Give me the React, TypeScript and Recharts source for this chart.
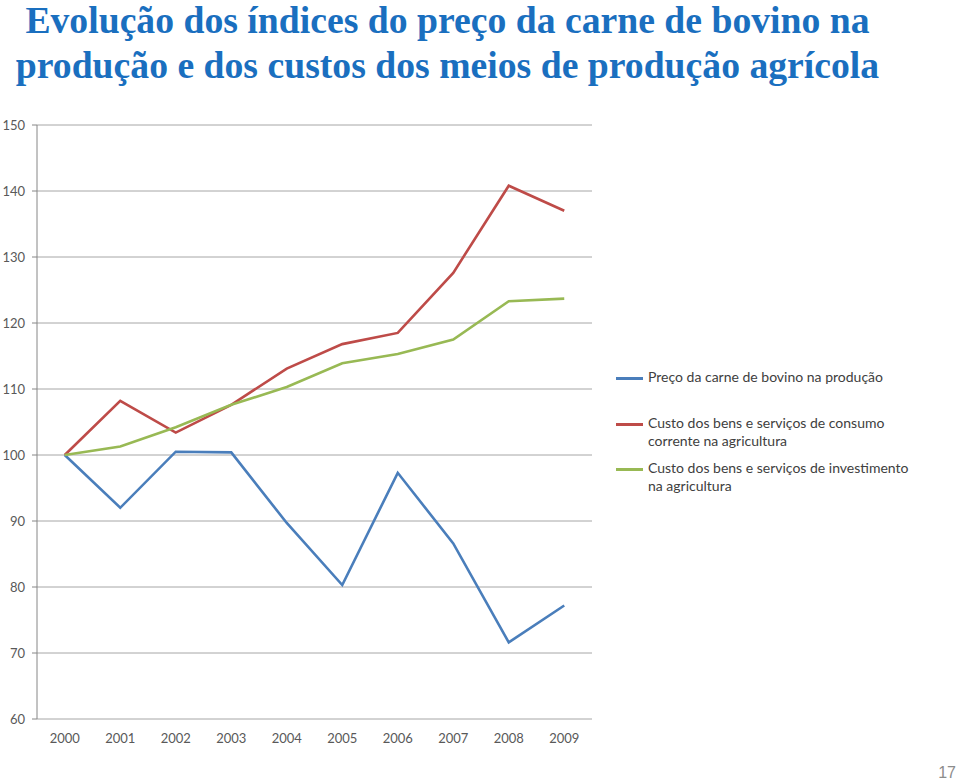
import { LineChart, Line, XAxis, YAxis, CartesianGrid } from 'recharts';

const years = [2000, 2001, 2002, 2003, 2004, 2005, 2006, 2007, 2008, 2009];
const precoBovino = [100, 92.0, 100.5, 100.4, 89.7, 80.3, 97.3, 86.6, 71.6, 77.2];
const custoConsumo = [100, 108.2, 103.4, 107.6, 113.1, 116.8, 118.5, 127.6, 140.8, 137.0];
const custoInvestimento = [100, 101.3, 104.2, 107.6, 110.3, 113.9, 115.3, 117.5, 123.3, 123.7];
const yTicks = [60, 70, 80, 90, 100, 110, 120, 130, 140, 150];
const boundaryTicks = [1999.5, 2000.5, 2001.5, 2002.5, 2003.5, 2004.5, 2005.5, 2006.5, 2007.5, 2008.5, 2009.5];

const series = [
  { key: 'preco', name: 'Preço da carne de bovino na produção', color: '#4a7ebb', values: precoBovino },
  { key: 'consumo', name: 'Custo dos bens e serviços de consumo corrente na agricultura', color: '#be4b48', values: custoConsumo },
  { key: 'invest', name: 'Custo dos bens e serviços de investimento na agricultura', color: '#98b954', values: custoInvestimento },
];

const data = years.map((year, i) => ({
  year,
  preco: precoBovino[i],
  consumo: custoConsumo[i],
  invest: custoInvestimento[i],
}));

const axisFont = { fontFamily: 'Lato, sans-serif', fontSize: 13, fill: '#595959' };

const legendTops = [368, 414, 459];

export default function App() {
  return (
    <div style={{ position: 'absolute', left: 0, top: 0, width: 960, height: 784, background: '#fff', overflow: 'hidden' }}>
      <div
        style={{
          position: 'absolute',
          left: 0,
          top: -2,
          width: 895,
          textAlign: 'center',
          fontFamily: '"Liberation Serif", "Times New Roman", serif',
          fontWeight: 'bold',
          fontSize: 37.7,
          lineHeight: '45px',
          color: '#1a6fbf',
          whiteSpace: 'nowrap',
        }}
      >
        Evolução dos índices do preço da carne de bovino na
        <br />
        produção e dos custos dos meios de produção agrícola
      </div>

      <LineChart width={960} height={784} data={data} margin={{ top: 125, right: 368, bottom: 35, left: 0 }}>
        <CartesianGrid vertical={false} stroke="#a6a6a6" xAxisId="ticks" />
        <XAxis
          xAxisId="ticks"
          dataKey="year"
          type="number"
          domain={[1999.5, 2009.5]}
          ticks={boundaryTicks}
          tickFormatter={() => ''}
          height={0}
          tickSize={5}
          stroke="#868686"
          axisLine={{ stroke: '#868686' }}
        />
        <XAxis
          xAxisId="labels"
          dataKey="year"
          type="number"
          domain={[1999.5, 2009.5]}
          ticks={years}
          tickFormatter={(v) => String(v)}
          height={30}
          axisLine={false}
          tickLine={false}
          tickMargin={9}
          tick={axisFont}
          interval={0}
        />
        <YAxis
          width={37}
          domain={[60, 150]}
          ticks={yTicks}
          interval={0}
          tickSize={5}
          tickMargin={7}
          stroke="#868686"
          tick={axisFont}
        />
        {series.map((s) => (
          <Line
            key={s.key}
            xAxisId="ticks"
            type="linear"
            dataKey={s.key}
            name={s.name}
            stroke={s.color}
            strokeWidth={2.6}
            dot={false}
            activeDot={false}
            isAnimationActive={false}
          />
        ))}
      </LineChart>

      {series.map((s, i) => (
        <div
          key={s.key}
          style={{
            position: 'absolute',
            left: 616,
            top: legendTops[i],
            width: 320,
            display: 'flex',
            alignItems: 'flex-start',
            fontFamily: 'Lato, sans-serif',
            fontSize: 14,
            lineHeight: '18px',
            color: '#404040',
          }}
        >
          <div style={{ width: 27, height: 3, background: s.color, marginTop: 9, flexShrink: 0 }} />
          <div style={{ marginLeft: 5, width: 264 }}>{s.name}</div>
        </div>
      ))}

      <div
        style={{
          position: 'absolute',
          right: 4,
          top: 764,
          fontFamily: '"Liberation Sans", Arial, sans-serif',
          fontSize: 16,
          color: '#8c8c8c',
        }}
      >
        17
      </div>
    </div>
  );
}
